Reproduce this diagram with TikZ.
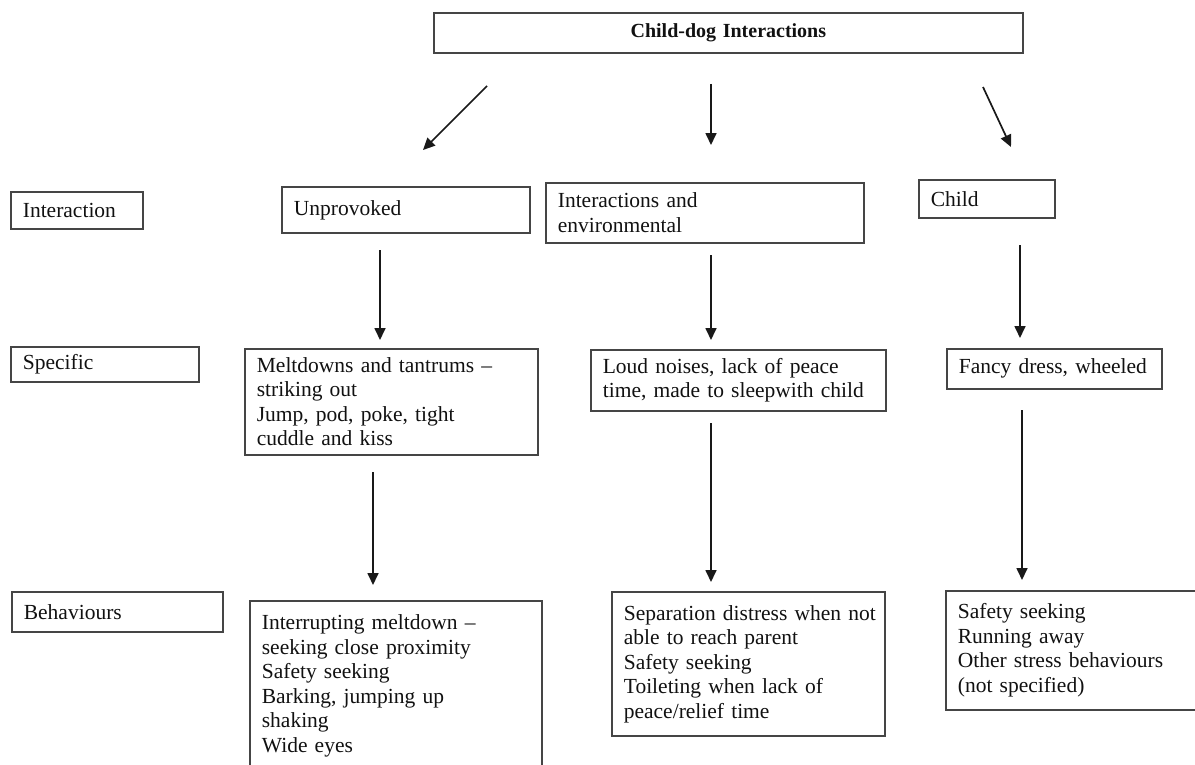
\documentclass[tikz,border=0pt]{standalone}
\usepackage{fontspec}
\setmainfont[WordSpace=0.85]{Liberation Serif}
\usetikzlibrary{arrows.meta}
\definecolor{boxc}{HTML}{454545}
\definecolor{txtc}{HTML}{111111}
\newcommand\oneline[1]{\mbox{#1}}
\begin{document}
\begin{tikzpicture}[x=1bp,y=-1bp,
  box/.style={draw=boxc, line width=1.7bp, inner xsep=12bp, inner ysep=0pt, align=left,
    anchor=north west, font=\fontsize{21.5bp}{24.5bp}\selectfont, text=txtc},
  arr/.style={draw=black!90, line width=1.7bp, -{Triangle[length=12bp,width=11bp]}}]
\fill[white] (0,0) rectangle (1195,765);
\useasboundingbox (0,0) rectangle (1195,765);
\clip (0,0) rectangle (1195,765);

% title
\node[box, align=center, text width=565bp, minimum height=40bp,
  font=\fontsize{20bp}{23bp}\selectfont\bfseries] (title) at (433,12) {Child-dog Interactions};

% row labels
\node[box, text width=108bp, minimum height=37bp] (lint) at (10,191) {\oneline{Interaction}};
\node[box, text width=164bp, minimum height=35bp] (lspec) at (10,346) {\oneline{Specific}};
\node[box, text width=187bp, minimum height=40bp] (lbeh) at (11,591) {\oneline{Behaviours}};

% interaction row
\node[box, text width=224bp, minimum height=46bp] (unprov) at (281,186) {\oneline{Unprovoked}};
\node[box, text width=294bp, minimum height=60bp] (intenv) at (545,182) {\oneline{Interactions and}\\\oneline{environmental}};
\node[box, text width=112bp, minimum height=38bp] (child) at (918,179) {\oneline{Child}};

% specific row
\node[box, text width=269bp, minimum height=106bp] (melt) at (244,348)
  {\oneline{Meltdowns and tantrums –}\\\oneline{striking out}\\\oneline{Jump, pod, poke, tight}\\\oneline{cuddle and kiss}};
\node[box, text width=271bp, minimum height=61bp] (loud) at (590,349)
  {\oneline{Loud noises, lack of peace}\\\oneline{time, made to sleepwith child}};
\node[box, text width=191bp, minimum height=40bp] (fancy) at (946,348) {\oneline{Fancy dress, wheeled}};

% behaviours row
\node[box, text width=268bp, minimum height=170bp] (interr) at (249,600)
  {\oneline{Interrupting meltdown –}\\\oneline{seeking close proximity}\\\oneline{Safety seeking}\\\oneline{Barking, jumping up}\\\oneline{shaking}\\\oneline{Wide eyes}};
\node[box, text width=249bp, minimum height=144bp] (sep) at (611,591)
  {\oneline{Separation distress when not}\\\oneline{able to reach parent}\\\oneline{Safety seeking}\\\oneline{Toileting when lack of}\\\oneline{peace/relief time}};
\node[box, text width=241bp, minimum height=119bp] (safe) at (945,590)
  {\oneline{Safety seeking}\\\oneline{Running away}\\\oneline{Other stress behaviours}\\\oneline{(not specified)}};

% arrow end points
\coordinate (a1s) at (487,86);  \coordinate (a1e) at (423,150);
\coordinate (a2s) at (711,84);  \coordinate (a2e) at (711,145);
\coordinate (a3s) at (983,87);  \coordinate (a3e) at (1011,147);
\coordinate (b1s) at (380,250); \coordinate (b1e) at (380,340);
\coordinate (b2s) at (711,255); \coordinate (b2e) at (711,340);
\coordinate (b3s) at (1020,245); \coordinate (b3e) at (1020,338);
\coordinate (c1s) at (373,472); \coordinate (c1e) at (373,585);
\coordinate (c2s) at (711,423); \coordinate (c2e) at (711,582);
\coordinate (c3s) at (1022,410); \coordinate (c3e) at (1022,580);

\draw[arr] (a1s) -- (a1e);
\draw[arr] (a2s) -- (a2e);
\draw[arr] (a3s) -- (a3e);
\draw[arr] (b1s) -- (b1e);
\draw[arr] (b2s) -- (b2e);
\draw[arr] (b3s) -- (b3e);
\draw[arr] (c1s) -- (c1e);
\draw[arr] (c2s) -- (c2e);
\draw[arr] (c3s) -- (c3e);
\end{tikzpicture}
\end{document}
